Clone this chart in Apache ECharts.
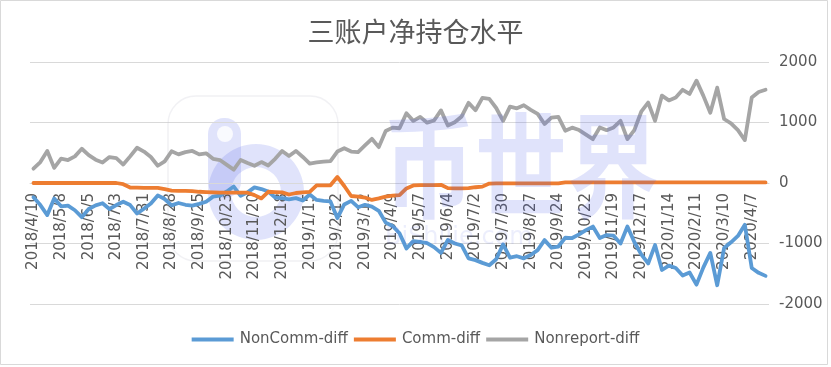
<!DOCTYPE html>
<html>
<head>
<meta charset="utf-8">
<script src="https://cdn.jsdelivr.net/npm/echarts@6/dist/echarts.min.js"></script>
<style>
html,body{margin:0;padding:0;background:#fff;}
#c{width:831px;height:367px;}
</style>
</head>
<body>
<div id="c"></div>
<script>
const titleText = '三账户净持仓水平';
const dates = [
'2018/4/10','2018/4/17','2018/4/24','2018/5/1','2018/5/8','2018/5/15','2018/5/22','2018/5/29',
'2018/6/5','2018/6/12','2018/6/19','2018/6/26','2018/7/3','2018/7/10','2018/7/17','2018/7/24',
'2018/7/31','2018/8/7','2018/8/14','2018/8/21','2018/8/28','2018/9/4','2018/9/11','2018/9/18',
'2018/9/25','2018/10/2','2018/10/9','2018/10/16','2018/10/23','2018/10/30','2018/11/6','2018/11/13',
'2018/11/20','2018/11/27','2018/12/4','2018/12/11','2018/12/18','2018/12/25','2019/1/1','2019/1/8',
'2019/1/15','2019/1/22','2019/1/29','2019/2/5','2019/2/12','2019/2/19','2019/2/26','2019/3/5',
'2019/3/12','2019/3/19','2019/3/26','2019/4/2','2019/4/9','2019/4/16','2019/4/23','2019/4/30',
'2019/5/7','2019/5/14','2019/5/21','2019/5/28','2019/6/4','2019/6/11','2019/6/18','2019/6/25',
'2019/7/2','2019/7/9','2019/7/16','2019/7/23','2019/7/30','2019/8/6','2019/8/13','2019/8/20',
'2019/8/27','2019/9/3','2019/9/10','2019/9/17','2019/9/24','2019/10/1','2019/10/8','2019/10/15',
'2019/10/22','2019/10/29','2019/11/5','2019/11/12','2019/11/19','2019/11/26','2019/12/3','2019/12/10',
'2019/12/17','2019/12/24','2019/12/31','2020/1/7','2020/1/14','2020/1/21','2020/1/28','2020/2/4',
'2020/2/11','2020/2/18','2020/2/25','2020/3/3','2020/3/10','2020/3/17','2020/3/24','2020/3/31',
'2020/4/7','2020/4/14','2020/4/21'
];
const nonCommDiff = [
-235,-365,-530,-255,-385,-375,-450,-565,-430,-370,-335,-430,-365,-310,-365,-505,
-425,-340,-205,-265,-370,-330,-360,-375,-345,-310,-225,-210,-140,-58,-212,-155,
-72,-100,-140,-240,-250,-270,-250,-290,-190,-280,-295,-305,-580,-355,-296,-400,
-360,-390,-460,-655,-710,-830,-1081,-960,-975,-995,-1060,-1155,-940,-1000,-1030,-1245,
-1275,-1320,-1360,-1260,-1015,-1235,-1210,-1245,-1190,-1110,-944,-1070,-1050,-905,-910,-850,
-780,-720,-910,-860,-870,-1000,-720,-975,-1180,-1330,-1026,-1438,-1365,-1405,-1530,-1480,
-1680,-1395,-1155,-1690,-1075,-980,-875,-690,-1405,-1485,-1535
];
const commDiff = [
0,0,0,0,0,0,0,0,0,0,0,0,0,-20,-75,-75,
-80,-80,-80,-100,-125,-130,-130,-135,-145,-150,-155,-158,-160,-160,-160,-160,
-200,-255,-145,-150,-155,-190,-165,-155,-145,-38,-38,-38,100,-50,-215,-225,
-240,-280,-255,-225,-210,-200,-90,-40,-35,-35,-35,-30,-85,-90,-90,-85,
-70,-60,-10,-5,-5,-5,-5,-5,-5,-5,-5,-5,-5,10,10,10,
10,10,10,10,10,10,10,10,10,10,10,10,10,10,10,10,
10,10,10,10,10,10,10,10,10,10,10
];
const nonreportDiff = [
237,346,530,250,402,380,440,566,460,385,338,428,410,305,440,583,
520,430,285,357,525,473,511,530,473,490,400,380,300,221,380,330,
285,346,290,400,530,445,530,430,320,340,355,363,520,575,520,511,
620,731,593,860,915,905,1153,1027,1093,997,1033,1200,951,1005,1100,1325,
1203,1407,1390,1240,1027,1263,1235,1285,1209,1143,975,1080,1093,865,915,875,
800,725,918,873,918,1027,725,873,1178,1330,1027,1445,1365,1412,1541,1472,
1692,1440,1160,1576,1058,987,873,709,1412,1505,1541
];
const seriesNames = ['NonComm-diff','Comm-diff','Nonreport-diff'];
const seriesColors = ['#5b9bd5','#ed7d31','#a5a5a5'];
const yTicks = [-2000,-1000,0,1000,2000];
const watermarkText = '币世界';
const watermarkSub = 'BiShiJie.com';

const chart = echarts.init(document.getElementById('c'), null, {renderer:'canvas'});
const FONT = 'DejaVu Sans';
const WM = 'rgba(70,90,230,0.17)';
const lineSeries = [nonCommDiff, commDiff, nonreportDiff].map((d,k)=>({
  name: seriesNames[k],
  type: 'line',
  data: d,
  symbol: 'none',
  smooth: false,
  lineStyle: {color: seriesColors[k], width: 3.8, cap:'round', join:'round'},
  itemStyle: {color: seriesColors[k]},
  z: 2
}));
const gridTop = 62, gridBottom = 63, H = 367;
const plotH = H - gridTop - gridBottom;
chart.setOption({
  animation: false,
  backgroundColor: '#fff',
  title: {
    text: titleText, left: 'center', top: 18, padding: 0,
    textStyle: {fontFamily: 'Noto Sans CJK SC', fontSize: 27, fontWeight: 'normal', color: '#595959'}
  },
  legend: {
    top: 327, left: 'center', itemWidth: 42, itemHeight: 4, itemGap: 6,
    icon: 'rect',
    textStyle: {fontFamily: FONT, fontSize: 15, color: '#595959', padding:[0,0,0,1]},
    data: seriesNames
  },
  grid: {left: 30, right: 62, top: gridTop, bottom: gridBottom, containLabel: false, outerBoundsMode: 'none'},
  xAxis: {
    type: 'category', data: dates, boundaryGap: true, position: 'bottom',
    offset: -plotH/2,
    axisLine: {onZero: false, lineStyle: {color: '#d9d9d9', width: 1}},
    axisTick: {show: false},
    axisLabel: {interval: 3, rotate: 90, margin: 10, fontFamily: FONT, fontSize: 15, color: '#595959'}
  },
  yAxis: {
    type: 'value', position: 'right', min: yTicks[0], max: yTicks[yTicks.length-1], interval: 1000,
    axisLine: {show: false}, axisTick: {show: false},
    axisLabel: {margin: 10, fontFamily: FONT, fontSize: 15, color: '#595959', formatter: v => String(v)},
    splitLine: {lineStyle: {color: '#d9d9d9', width: 1}}
  },
  graphic: [
    {type:'rect', shape:{x:0.5,y:0.5,width:827,height:364}, style:{fill:'none', stroke:'#d9d9d9', lineWidth:1}, z:0, silent:true},
    {type:'rect', shape:{x:168,y:96,width:170,height:165,r:28}, style:{fill:'none', stroke:'rgba(200,200,210,0.25)', lineWidth:1.5}, z:1, silent:true},
    {type:'group', z:10, silent:true, children:[
      {type:'rect', shape:{x:208,y:118,width:33,height:80,r:16}, style:{fill:WM}},
      {type:'ring', shape:{cx:256,cy:192,r:48,r0:25}, style:{fill:WM}},
      {type:'circle', shape:{cx:225,cy:134,r:8}, style:{fill:'rgba(255,255,255,0.8)'}}
    ]},
    {type:'text', x: 383, y: 108, scaleY: 1.25, z: 10, silent:true,
     style:{text: watermarkText, font: 'bold 92px "Noto Sans CJK SC"', fill: WM}},
    {type:'text', x: 385, y: 226, z: 10, silent:true,
     style:{text: watermarkSub, font: '24px "DejaVu Sans"', fill:'rgba(70,90,230,0.10)'}}
  ],
  series: lineSeries
});
</script>
</body>
</html>
